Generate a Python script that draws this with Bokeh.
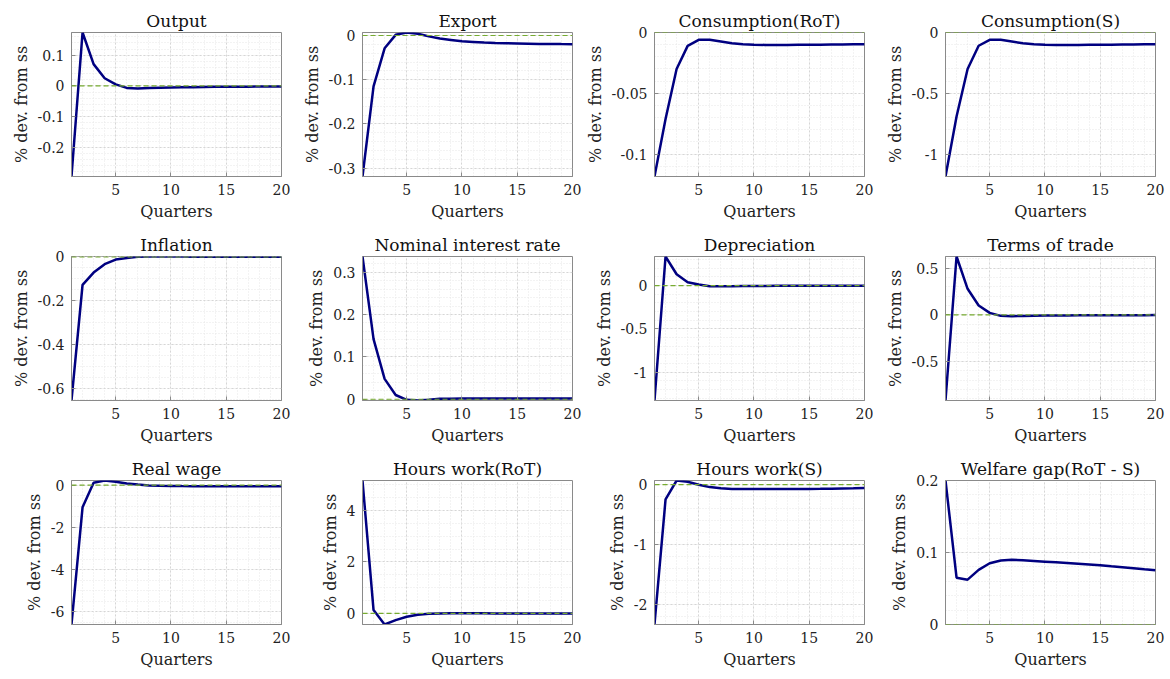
import numpy as np
from bokeh.plotting import figure
from bokeh.layouts import gridplot
from bokeh.models import Range1d, FixedTicker, Span
from bokeh.embed import file_html
from bokeh.resources import INLINE

# Impulse responses, % deviation from steady state, quarters 1..20
quarters = list(range(1, 21))

output = [-0.295, 0.174, 0.071, 0.025, 0.005, -0.0065, -0.008, -0.007, -0.006, -0.005,
          -0.0045, -0.004, -0.0035, -0.003, -0.003, -0.0025, -0.0025, -0.002, -0.002, -0.002]
export = [-0.319, -0.115, -0.029, 0.0015, 0.0068, 0.004, -0.002, -0.007, -0.010, -0.013,
          -0.0145, -0.016, -0.017, -0.0175, -0.018, -0.0185, -0.019, -0.019, -0.0195, -0.0196]
cons_rot = [-0.1184, -0.0712, -0.030, -0.011, -0.006, -0.006, -0.0074, -0.0088, -0.0096, -0.0101,
            -0.0102, -0.0102, -0.0102, -0.0101, -0.0101, -0.0100, -0.0099, -0.0098, -0.0097, -0.0096]
cons_s = [-1.184, -0.69, -0.30, -0.109, -0.06, -0.06, -0.074, -0.088, -0.096, -0.101,
          -0.102, -0.102, -0.102, -0.101, -0.101, -0.100, -0.099, -0.098, -0.097, -0.096]
inflation = [-0.653, -0.127, -0.071, -0.033, -0.012, -0.0045, 0.0005, 0.002, 0.002, 0.0018,
             0.0016, 0.0014, 0.0012, 0.001, 0.001, 0.0009, 0.0008, 0.0008, 0.0007, 0.0007]
nominal_rate = [0.337, 0.142, 0.048, 0.010, -0.0015, -0.003, -0.0015, 0.001, 0.0013, 0.0015,
                0.0016, 0.0017, 0.0018, 0.0018, 0.0019, 0.0019, 0.002, 0.002, 0.002, 0.002]
depreciation = [-1.327, 0.335, 0.130, 0.038, 0.012, -0.008, -0.008, -0.007, -0.006, -0.005,
                -0.0045, -0.004, -0.0035, -0.003, -0.003, -0.0025, -0.0025, -0.002, -0.002, -0.002]
terms_of_trade = [-0.918, 0.625, 0.279, 0.100, 0.021, -0.011, -0.014, -0.012, -0.010, -0.008,
                  -0.007, -0.006, -0.0055, -0.005, -0.0045, -0.004, -0.0038, -0.0035, -0.0032, -0.003]
real_wage = [-6.60, -1.05, 0.11, 0.22, 0.16, 0.08, 0.03, -0.016, -0.03, -0.04,
             -0.045, -0.047, -0.048, -0.049, -0.05, -0.05, -0.05, -0.05, -0.05, -0.05]
hours_rot = [5.16, 0.13, -0.43, -0.26, -0.13, -0.05, -0.013, 0.0, 0.004, 0.004,
             0.003, 0.002, 0.001, 0.0, 0.0, -0.001, -0.001, -0.002, -0.002, -0.003]
hours_s = [-2.33, -0.245, 0.07, 0.05, 0.0, -0.04, -0.06, -0.07, -0.072, -0.073,
           -0.073, -0.073, -0.073, -0.072, -0.071, -0.069, -0.066, -0.063, -0.060, -0.056]
welfare_gap = [0.200, 0.065, 0.0623, 0.0758, 0.085, 0.0888, 0.090, 0.0892, 0.0883, 0.0873,
               0.0863, 0.0853, 0.0843, 0.0833, 0.0823, 0.0808, 0.0795, 0.0782, 0.0768, 0.0755]

titles = ["Output", "Export", "Consumption(RoT)", "Consumption(S)",
          "Inflation", "Nominal interest rate", "Depreciation", "Terms of trade",
          "Real wage", "Hours work(RoT)", "Hours work(S)", "Welfare gap(RoT - S)"]
series = [output, export, cons_rot, cons_s,
          inflation, nominal_rate, depreciation, terms_of_trade,
          real_wage, hours_rot, hours_s, welfare_gap]

# y tick values per panel
y_ticks = [[-0.2, -0.1, 0, 0.1],
           [-0.3, -0.2, -0.1, 0],
           [-0.1, -0.05, 0],
           [-1, -0.5, 0],
           [-0.6, -0.4, -0.2, 0],
           [0, 0.1, 0.2, 0.3],
           [-1, -0.5, 0],
           [-0.5, 0, 0.5],
           [-6, -4, -2, 0],
           [0, 2, 4],
           [-2, -1, 0],
           [0, 0.1, 0.2]]
x_ticks = [5, 10, 15, 20]

x_label = "Quarters"
y_label = "% dev. from ss"

FONT = "DejaVu Serif"
BOX = "#8a8a8a"
LINE = "#000080"
ZERO = "#77AC30"


def fmt(t):
    return "%g" % t


def minor_list(ticks, lo, hi):
    step = ticks[1] - ticks[0]
    mant = round(step / 10 ** np.floor(np.log10(step)), 6)
    mstep = step / (4 if mant == 2 else 5)
    start = np.floor(lo / mstep) * mstep
    vals = np.arange(start, hi + mstep, mstep)
    return [float(round(v, 10)) for v in vals if lo - 1e-12 <= v <= hi + 1e-12]


def panel(title, values, yt):
    lo = min(min(values), 0.0)
    hi = max(max(values), 0.0)
    p = figure(frame_width=210, frame_height=144,
               min_border_left=71, min_border_right=10,
               min_border_top=32, min_border_bottom=48,
               x_range=Range1d(1, 20), y_range=Range1d(lo, hi),
               output_backend="svg", toolbar_location=None, tools="",
               background_fill_color="white", border_fill_color="white")
    p.title.text = title
    p.title.align = "center"
    p.title.text_font = FONT
    p.title.text_font_size = "17px"
    p.title.text_font_style = "normal"
    p.title.text_color = "#111111"
    p.title.standoff = 3

    p.outline_line_color = BOX
    p.outline_line_width = 1

    p.xaxis.ticker = FixedTicker(ticks=x_ticks, minor_ticks=quarters)
    p.yaxis.ticker = FixedTicker(ticks=yt, minor_ticks=minor_list(yt, lo, hi))
    p.yaxis.major_label_overrides = {t: fmt(t) for t in yt}
    p.xaxis.major_label_overrides = {t: fmt(t) for t in x_ticks}

    for ax in (p.xaxis[0], p.yaxis[0]):
        ax.axis_line_color = BOX
        ax.major_tick_line_color = BOX
        ax.major_tick_in = 4
        ax.major_tick_out = 0
        ax.minor_tick_in = 0
        ax.minor_tick_out = 0
        ax.major_label_text_font = FONT
        ax.major_label_text_font_size = "14px"
        ax.major_label_text_color = "#222222"
        ax.axis_label_text_font = FONT
        ax.axis_label_text_font_size = "16px"
        ax.axis_label_text_font_style = "normal"
        ax.axis_label_text_color = "#222222"
        ax.major_label_standoff = 7
        ax.axis_label_standoff = 4
    p.xaxis.axis_label = x_label
    p.yaxis.axis_label = y_label

    for g in (p.xgrid[0], p.ygrid[0]):
        g.grid_line_color = "#d6d6d6"
        g.grid_line_dash = "2 2"
        g.grid_line_width = 1
        g.minor_grid_line_color = "#e6e6e6"
        g.minor_grid_line_dash = "1 2"
        g.minor_grid_line_width = 1

    p.add_layout(Span(location=0, dimension="width", line_color=ZERO,
                      line_dash="5 3", line_width=1.2))
    p.line(quarters, values, line_color=LINE, line_width=2.5)
    return p


plots = [panel(t, v, yt) for t, v, yt in zip(titles, series, y_ticks)]
rows = [plots[i:i + 4] for i in range(0, 12, 4)]
layout = gridplot(rows, toolbar_location=None)

open("out.html", "w").write(file_html(layout, INLINE))
